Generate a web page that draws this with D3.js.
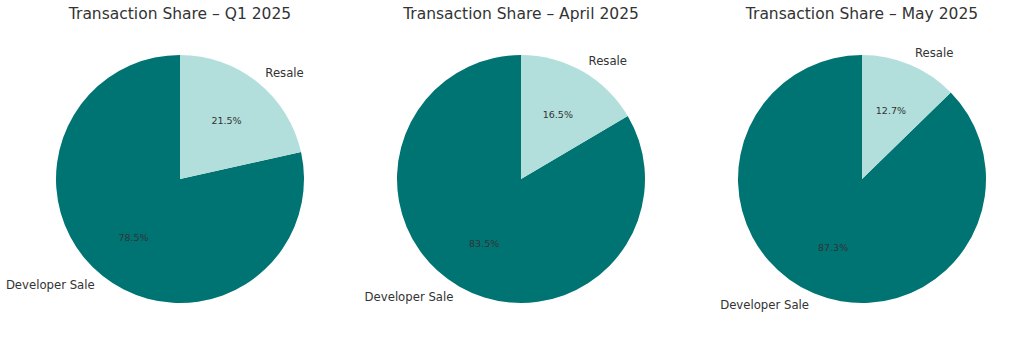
<!DOCTYPE html>
<html>
<head>
<meta charset="utf-8">
<script src="https://cdn.jsdelivr.net/npm/d3@7"></script>
<style>
  body { margin: 0; background: #fff; }
  text { font-family: "DejaVu Sans", sans-serif; fill: #333; }
</style>
</head>
<body>
<script>
// chart data
var periods = ["Q1 2025", "April 2025", "May 2025"];
var categories = ["Developer Sale", "Resale"];
var developerShare = [78.5, 83.5, 87.3];
var resaleShare = [21.5, 16.5, 12.7];
var colors = ["#007373", "#b2dfdb"];

var width = 1024, height = 341;
var radius = 124;

var svg = d3.select("body").append("svg").attr("width", width).attr("height", height);

// pie centres along the width
var x = d3.scalePoint().domain(periods).range([180, 862]);
var color = d3.scaleOrdinal().domain(categories).range(colors);

// matplotlib style: start at top, counterclockwise
var pie = d3.pie().sort(null).value(function(d) { return d.value; })
    .startAngle(2 * Math.PI).endAngle(0);
var arc = d3.arc().innerRadius(0).outerRadius(radius);

periods.forEach(function(period, i) {
    var data = [
        { name: categories[0], value: developerShare[i] },
        { name: categories[1], value: resaleShare[i] }
    ];
    var g = svg.append("g").attr("transform", "translate(" + x(period) + ",179)");

    g.selectAll("path").data(pie(data)).enter().append("path")
        .attr("d", arc)
        .style("fill", function(d) { return color(d.data.name); });

    // category labels at 1.1 radius
    g.selectAll(".lbl").data(pie(data)).enter().append("text")
        .attr("class", "lbl")
        .each(function(d) {
            var a = (d.startAngle + d.endAngle) / 2;
            var lx = Math.sin(a) * radius * 1.1, ly = -Math.cos(a) * radius * 1.1;
            d3.select(this).attr("x", lx).attr("y", ly)
                .attr("text-anchor", lx > 0 ? "start" : "end");
        })
        .attr("dominant-baseline", "central")
        .style("font-size", "11.7px")
        .text(function(d) { return d.data.name; });

    // percentage labels at 0.6 radius
    g.selectAll(".pct").data(pie(data)).enter().append("text")
        .attr("class", "pct")
        .each(function(d) {
            var a = (d.startAngle + d.endAngle) / 2;
            d3.select(this).attr("x", Math.sin(a) * radius * 0.6).attr("y", -Math.cos(a) * radius * 0.6);
        })
        .attr("text-anchor", "middle")
        .attr("dominant-baseline", "central")
        .style("font-size", "9.5px")
        .text(function(d) { return d.data.value.toFixed(1) + "%"; });

    // title
    svg.append("text")
        .attr("x", x(period)).attr("y", 14)
        .attr("text-anchor", "middle")
        .attr("dominant-baseline", "central")
        .style("font-size", "15.5px")
        .text("Transaction Share \u2013 " + period);
});
</script>
</body>
</html>
